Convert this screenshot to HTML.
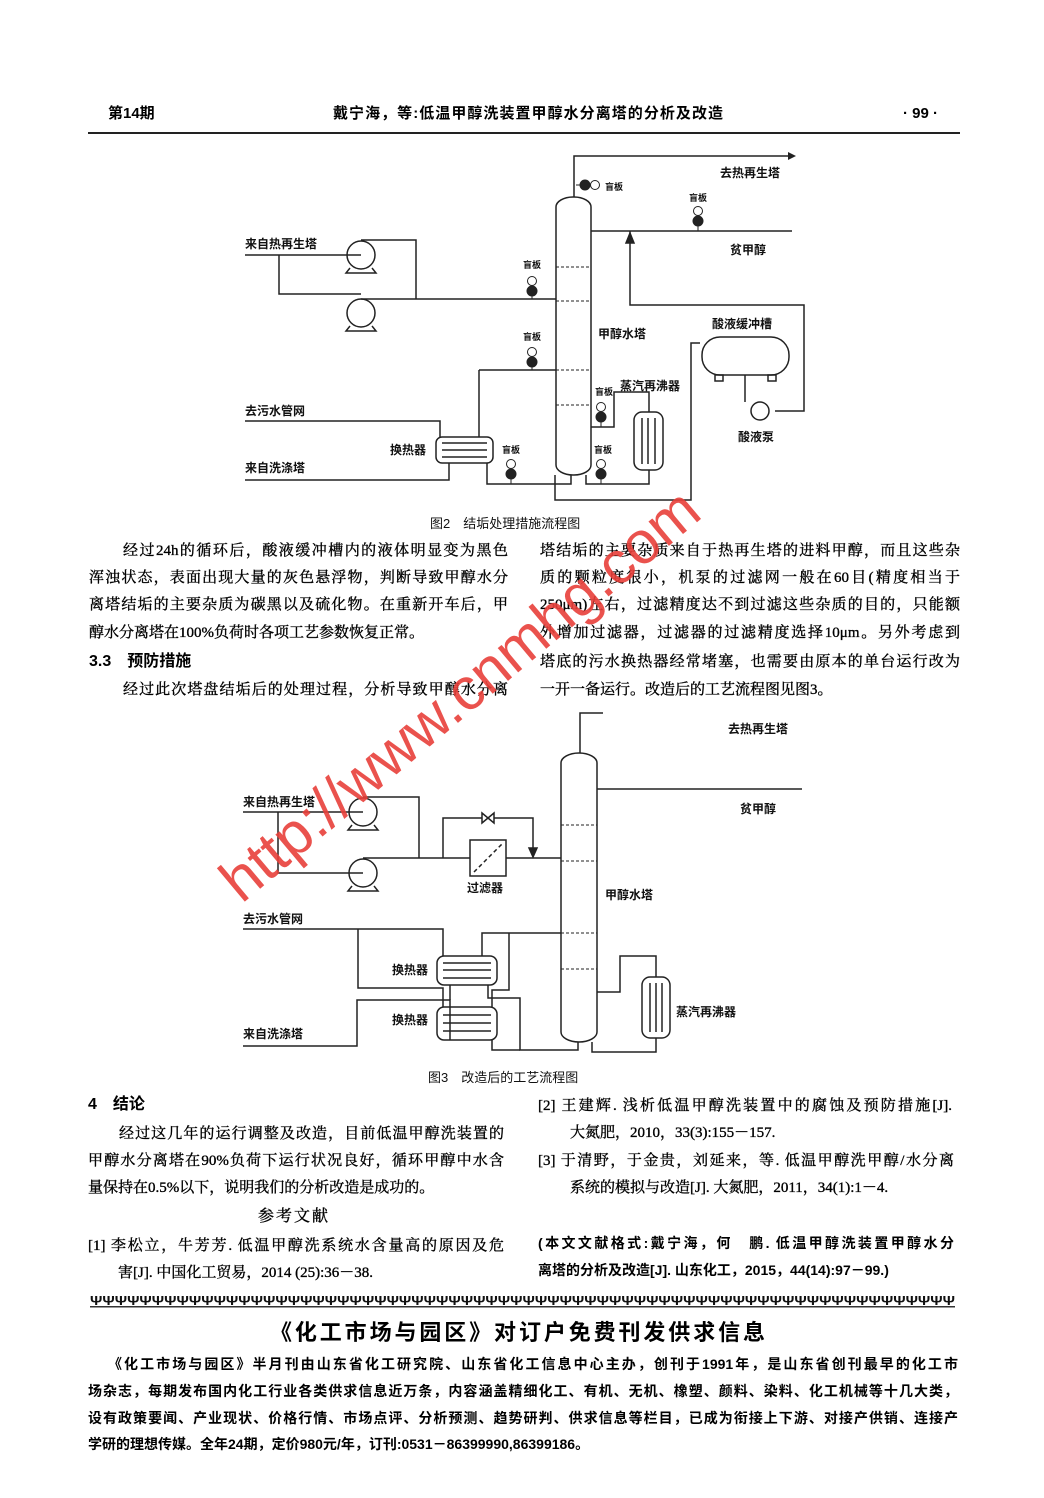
<!DOCTYPE html>
<html><head><meta charset="utf-8">
<style>
html,body{margin:0;padding:0;background:#fff;}
body{width:1044px;height:1498px;position:relative;overflow:hidden;font-family:"Liberation Serif","Noto Serif CJK SC","Noto Sans CJK SC",serif;color:#000;}
.l{position:absolute;font-size:15px;line-height:18px;white-space:nowrap;text-align:justify;text-align-last:justify;-webkit-text-stroke:0.35px #000;}
.n{position:absolute;font-size:15px;line-height:18px;white-space:nowrap;-webkit-text-stroke:0.35px #000;}
.b{font-family:"Liberation Sans","Noto Sans CJK SC",sans-serif;font-weight:bold;-webkit-text-stroke:0;}
svg text{font-family:"Liberation Sans","Noto Sans CJK SC",sans-serif;font-weight:bold;font-size:12px;fill:#111;}
</style></head><body>

<div class="n b" style="left:108px;top:105px;font-size:15px;">第14期</div>
<div class="n b" style="left:333px;top:105px;font-size:15px;width:390px;text-align:justify;text-align-last:justify;">戴宁海，等:低温甲醇洗装置甲醇水分离塔的分析及改造</div>
<div class="n b" style="left:903px;top:105px;font-size:15px;">· 99 ·</div>
<div style="position:absolute;left:88px;top:132px;width:872px;height:2px;background:#222;"></div>

<svg width="1044" height="1498" style="position:absolute;left:0;top:0;" xmlns="http://www.w3.org/2000/svg">
<g stroke="#222" stroke-width="1.5" fill="none">
<!-- ===== FIG 2 ===== -->
<rect x="556" y="197" width="35" height="278" rx="17" ry="10" fill="#fff"/>
<g stroke-dasharray="3,2" stroke-width="1"><line x1="556" y1="267" x2="591" y2="267"/><line x1="556" y1="301" x2="591" y2="301"/><line x1="556" y1="370" x2="591" y2="370"/><line x1="556" y1="405" x2="591" y2="405"/></g>
<polyline points="574,197 574,156 791,156"/>
<polyline points="591,231 792,231"/>
<polyline points="630,231 630,305 804,305 804,411 775,411"/>
<polygon points="630,233 626,243 634,243" fill="#222"/>
<rect x="702" y="337" width="87" height="38" rx="18" fill="#fff"/>
<rect x="715" y="375" width="8" height="6"/><rect x="768" y="375" width="8" height="6"/>
<circle cx="760" cy="411" r="9" fill="#fff"/>
<line x1="745" y1="375" x2="745" y2="402"/>
<polyline points="555,475 555,500 691,500 691,343 700,343"/>
<circle cx="361" cy="255" r="14" fill="#fff"/><path d="M350,268 L346,273 L376,273 L372,268"/>
<circle cx="361" cy="313" r="14" fill="#fff"/><path d="M350,326 L346,331 L376,331 L372,326"/>
<polyline points="245,255 361,255"/>
<polyline points="279,255 279,294 361,294"/>
<polyline points="361,240 416,240 416,299"/>
<polyline points="361,299 556,299"/>
<polyline points="479,370 556,370"/>
<polyline points="479,370 479,437"/>
<polyline points="487,463 487,484 571,484 571,475"/>
<rect x="436" y="437" width="57" height="26" rx="6" fill="#fff"/>
<line x1="442" y1="443" x2="487" y2="443"/><line x1="442" y1="450" x2="487" y2="450"/><line x1="442" y1="457" x2="487" y2="457"/>
<polyline points="245,421 440,421 440,437"/>
<polyline points="245,480 449,480 449,463"/>
<rect x="634" y="412" width="29" height="58" rx="8" fill="#fff"/>
<line x1="642" y1="418" x2="642" y2="464"/><line x1="648" y1="418" x2="648" y2="464"/><line x1="655" y1="418" x2="655" y2="464"/>
<polyline points="586,475 586,484 649,484 649,470"/>
<polyline points="649,412 649,392 614,392 614,427 591,427"/>
<!-- ===== FIG 3 ===== -->
<rect x="561" y="753" width="36" height="289" rx="18" ry="10" fill="#fff"/>
<g stroke-dasharray="3,2" stroke-width="1"><line x1="561" y1="825" x2="597" y2="825"/><line x1="561" y1="861" x2="597" y2="861"/><line x1="561" y1="933" x2="597" y2="933"/><line x1="561" y1="969" x2="597" y2="969"/></g>
<polyline points="580,753 580,713 603,713"/>
<polyline points="597,789 802,789"/>
<circle cx="363" cy="812" r="14" fill="#fff"/><path d="M352,825 L348,830 L378,830 L374,825"/>
<circle cx="363" cy="873" r="14" fill="#fff"/><path d="M352,886 L348,891 L378,891 L374,886"/>
<polyline points="243,812 363,812"/>
<polyline points="278,812 278,873 363,873"/>
<polyline points="363,797 419,797 419,858"/>
<polyline points="363,858 470,858"/><polyline points="506,858 561,858"/>
<rect x="470" y="840" width="36" height="36" fill="#fff"/>
<line x1="474" y1="872" x2="502" y2="844" stroke-dasharray="4,3"/>
<polyline points="443,858 443,818 533,818 533,852"/>
<polygon points="533,857 529,848 537,848" fill="#222"/>
<polygon points="482,813 482,823 494,813 494,823" fill="#fff"/>
<rect x="437" y="956" width="60" height="29" rx="7" fill="#fff"/>
<line x1="443" y1="963" x2="491" y2="963"/><line x1="443" y1="970" x2="491" y2="970"/><line x1="443" y1="978" x2="491" y2="978"/>
<rect x="437" y="1007" width="60" height="33" rx="7" fill="#fff"/>
<line x1="443" y1="1015" x2="491" y2="1015"/><line x1="443" y1="1023" x2="491" y2="1023"/><line x1="443" y1="1031" x2="491" y2="1031"/>
<polyline points="243,929 443,929 443,956"/>
<polyline points="358,929 358,988 443,988 443,1007"/>
<polyline points="243,1046 357,1046 357,1000 450,1000 450,1040"/>
<polyline points="450,985 450,1000"/>
<polyline points="482,956 482,933 561,933"/>
<polyline points="509,933 509,990 492,990 492,1007"/>
<polyline points="488,985 488,998 520,998 520,1050 578,1050 578,1042"/>
<polyline points="492,1040 492,1050 520,1050"/>
<rect x="642" y="977" width="28" height="61" rx="8" fill="#fff"/>
<line x1="650" y1="983" x2="650" y2="1032"/><line x1="656" y1="983" x2="656" y2="1032"/><line x1="662" y1="983" x2="662" y2="1032"/>
<polyline points="597,992 620,992 620,956 656,956 656,977"/>
<polyline points="656,1038 656,1052 592,1052 592,1042"/>
</g>
<polygon points="796,156 788,152 788,160" fill="#222"/>
<g stroke="#222" stroke-width="1" fill="#fff">
<circle cx="532" cy="281" r="4.5"/><circle cx="532" cy="291" r="5" fill="#222"/><line x1="532" y1="296" x2="532" y2="299"/>
<circle cx="532" cy="352" r="4.5"/><circle cx="532" cy="362" r="5" fill="#222"/><line x1="532" y1="367" x2="532" y2="370"/>
<circle cx="511" cy="464" r="4.5"/><circle cx="511" cy="474" r="5" fill="#222"/><line x1="511" y1="479" x2="511" y2="484"/>
<circle cx="601" cy="407" r="4.5"/><circle cx="601" cy="417" r="5" fill="#222"/><line x1="601" y1="422" x2="601" y2="427"/>
<circle cx="601" cy="464" r="4.5"/><circle cx="601" cy="474" r="5" fill="#222"/><line x1="601" y1="479" x2="601" y2="484"/>
<circle cx="698" cy="211" r="4.5"/><circle cx="698" cy="221" r="5" fill="#222"/><line x1="698" y1="226" x2="698" y2="231"/>
<circle cx="585" cy="185" r="5" fill="#222"/><circle cx="595" cy="185" r="4.5"/><line x1="576" y1="185" x2="580" y2="185"/>
</g>
<text x="720" y="177">去热再生塔</text>
<text x="605" y="190" style="font-size:9px">盲板</text>
<text x="689" y="201" style="font-size:9px">盲板</text>
<text x="730" y="254">贫甲醇</text>
<text x="245" y="248">来自热再生塔</text>
<text x="523" y="268" style="font-size:9px">盲板</text>
<text x="523" y="340" style="font-size:9px">盲板</text>
<text x="598" y="338">甲醇水塔</text>
<text x="712" y="328">酸液缓冲槽</text>
<text x="620" y="390">蒸汽再沸器</text>
<text x="595" y="395" style="font-size:9px">盲板</text>
<text x="738" y="441">酸液泵</text>
<text x="245" y="415">去污水管网</text>
<text x="390" y="454">换热器</text>
<text x="502" y="453" style="font-size:9px">盲板</text>
<text x="594" y="453" style="font-size:9px">盲板</text>
<text x="245" y="472">来自洗涤塔</text>
<text x="728" y="733">去热再生塔</text>
<text x="740" y="813">贫甲醇</text>
<text x="243" y="806">来自热再生塔</text>
<text x="467" y="892">过滤器</text>
<text x="605" y="899">甲醇水塔</text>
<text x="243" y="923">去污水管网</text>
<text x="392" y="974">换热器</text>
<text x="392" y="1024">换热器</text>
<text x="676" y="1016">蒸汽再沸器</text>
<text x="243" y="1038">来自洗涤塔</text>
<text x="430" y="528" style="font-weight:normal;font-size:13px">图2　结垢处理措施流程图</text>
<text x="428" y="1082" style="font-weight:normal;font-size:13px">图3　改造后的工艺流程图</text>
<rect x="90" y="1306" width="865" height="1.5" fill="#333"/>
<text x="90" y="1305" style="font-size:13px;font-weight:bold" textLength="865" lengthAdjust="spacingAndGlyphs">ΨΨΨΨΨΨΨΨΨΨΨΨΨΨΨΨΨΨΨΨΨΨΨΨΨΨΨΨΨΨΨΨΨΨΨΨΨΨΨΨΨΨΨΨΨΨΨΨΨΨΨΨΨΨΨΨΨΨΨΨΨΨΨΨΨΨΨΨΨΨ</text>
</svg>

<div class="l" style="left:123px;top:542px;width:385px;">经过24h的循环后，酸液缓冲槽内的液体明显变为黑色</div>
<div class="l" style="left:89px;top:569px;width:419px;">浑浊状态，表面出现大量的灰色悬浮物，判断导致甲醇水分</div>
<div class="l" style="left:89px;top:596px;width:419px;">离塔结垢的主要杂质为碳黑以及硫化物。在重新开车后，甲</div>
<div class="n" style="left:89px;top:624px;">醇水分离塔在100%负荷时各项工艺参数恢复正常。</div>
<div class="n b" style="left:89px;top:653px;font-size:16px;">3.3　预防措施</div>
<div class="l" style="left:123px;top:681px;width:385px;">经过此次塔盘结垢后的处理过程，分析导致甲醇水分离</div>
<div class="l" style="left:540px;top:542px;width:420px;">塔结垢的主要杂质来自于热再生塔的进料甲醇，而且这些杂</div>
<div class="l" style="left:540px;top:569px;width:420px;">质的颗粒度很小，机泵的过滤网一般在60目(精度相当于</div>
<div class="l" style="left:540px;top:596px;width:420px;">250μm)左右，过滤精度达不到过滤这些杂质的目的，只能额</div>
<div class="l" style="left:540px;top:624px;width:420px;">外增加过滤器，过滤器的过滤精度选择10μm。另外考虑到</div>
<div class="l" style="left:540px;top:653px;width:420px;">塔底的污水换热器经常堵塞，也需要由原本的单台运行改为</div>
<div class="n" style="left:540px;top:681px;">一开一备运行。改造后的工艺流程图见图3。</div>

<div class="n b" style="left:88px;top:1096px;font-size:16px;">4　结论</div>
<div class="l" style="left:119px;top:1125px;width:385px;">经过这几年的运行调整及改造，目前低温甲醇洗装置的</div>
<div class="l" style="left:88px;top:1152px;width:416px;">甲醇水分离塔在90%负荷下运行状况良好，循环甲醇中水含</div>
<div class="n" style="left:88px;top:1179px;">量保持在0.5%以下，说明我们的分析改造是成功的。</div>
<div class="n" style="left:258px;top:1208px;font-size:16px;letter-spacing:2px;">参考文献</div>
<div class="l" style="left:88px;top:1237px;width:416px;">[1] 李松立，牛芳芳. 低温甲醇洗系统水含量高的原因及危</div>
<div class="n" style="left:118px;top:1264px;">害[J]. 中国化工贸易，2014 (25):36－38.</div>
<div class="l" style="left:538px;top:1097px;width:414px;">[2] 王建辉. 浅析低温甲醇洗装置中的腐蚀及预防措施[J].</div>
<div class="n" style="left:570px;top:1124px;">大氮肥，2010，33(3):155－157.</div>
<div class="l" style="left:538px;top:1152px;width:416px;">[3] 于清野，于金贵，刘延来，等. 低温甲醇洗甲醇/水分离</div>
<div class="n" style="left:570px;top:1179px;">系统的模拟与改造[J]. 大氮肥，2011，34(1):1－4.</div>
<div class="l b" style="left:538px;top:1234px;width:416px;font-size:14px;">(本文文献格式:戴宁海，何　鹏. 低温甲醇洗装置甲醇水分</div>
<div class="n b" style="left:538px;top:1261px;font-size:14px;">离塔的分析及改造[J]. 山东化工，2015，44(14):97－99.)</div>

<div class="n b" style="left:270px;top:1320px;font-size:22px;line-height:26px;width:495px;text-align:justify;text-align-last:justify;">《化工市场与园区》对订户免费刊发供求信息</div>
<div class="l b" style="left:108px;top:1355px;width:850px;font-size:14px;">《化工市场与园区》半月刊由山东省化工研究院、山东省化工信息中心主办，创刊于1991年，是山东省创刊最早的化工市</div>
<div class="l b" style="left:88px;top:1382px;width:870px;font-size:14px;">场杂志，每期发布国内化工行业各类供求信息近万条，内容涵盖精细化工、有机、无机、橡塑、颜料、染料、化工机械等十几大类，</div>
<div class="l b" style="left:88px;top:1409px;width:870px;font-size:14px;">设有政策要闻、产业现状、价格行情、市场点评、分析预测、趋势研判、供求信息等栏目，已成为衔接上下游、对接产供销、连接产</div>
<div class="n b" style="left:88px;top:1435px;font-size:14px;">学研的理想传媒。全年24期，定价980元/年，订刊:0531－86399990,86399186。</div>

<div style="position:absolute;left:130px;top:664px;width:660px;text-align:center;font-family:'Liberation Sans',sans-serif;font-size:60px;line-height:62px;color:#e8403a;transform:rotate(-40deg);white-space:nowrap;opacity:0.9;">http://www.cnmhg.com</div>
</body></html>
